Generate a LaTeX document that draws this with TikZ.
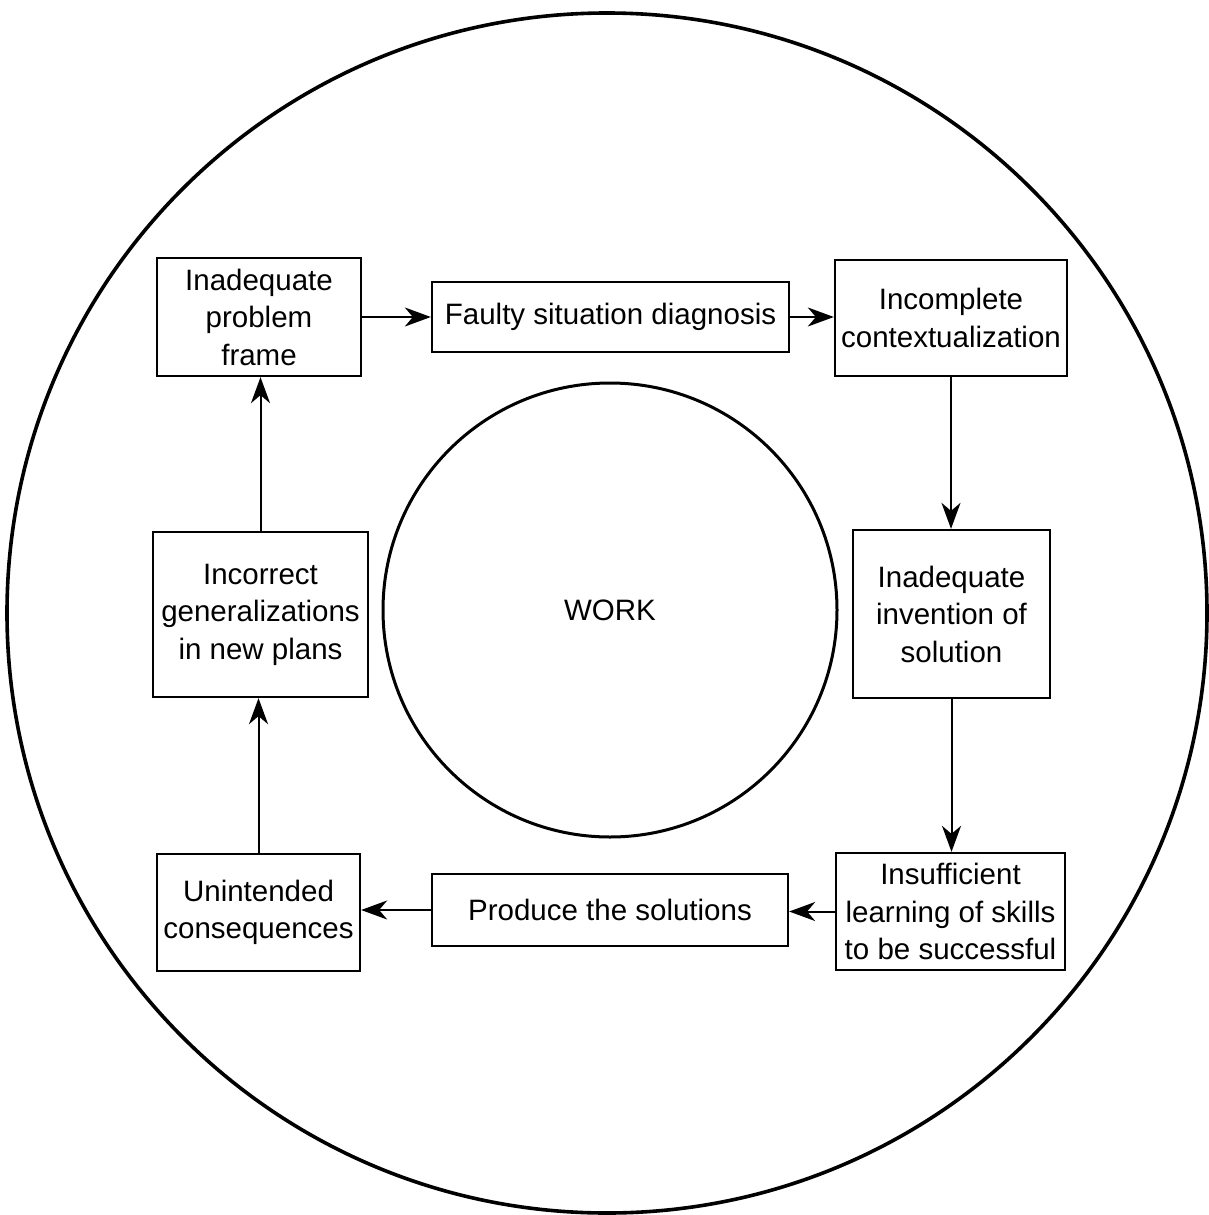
\documentclass[tikz,border=0pt]{standalone}
\usepackage{fontspec}
\setmainfont{Liberation Sans}
\usetikzlibrary{arrows.meta}
\begin{document}
\begin{tikzpicture}[x=1pt,y=-1pt,
  box/.style={draw, line width=2.3pt, align=center, inner sep=0pt,
    font=\fontsize{29.5}{37.5}\selectfont},
  conn/.style={line width=2pt, -{Stealth[length=26pt,width=19pt,inset=8pt]}},
  ring/.style={draw, line width=3.6pt}]
\useasboundingbox (0,0) rectangle (1209,1215);
\node[ring, circle, minimum size=1200pt, inner sep=0pt] (outer) at (607,613) {};
\node[draw, line width=3pt, circle, minimum size=454pt, inner sep=0pt,
  font=\fontsize{29.5}{37.5}\selectfont] (work) at (610,610) {WORK};
\node[box, minimum width=204pt, minimum height=118pt] (ipf) at (259,317) {Inadequate\\problem\\frame};
\node[box, minimum width=357pt, minimum height=70pt] (fsd) at (610.5,317) {Faulty situation diagnosis};
\node[box, minimum width=232pt, minimum height=116pt] (ic) at (951,318) {Incomplete\\contextualization};
\node[box, minimum width=215pt, minimum height=165pt] (ig) at (260.5,614.5) {Incorrect\\generalizations\\in new plans};
\node[box, minimum width=197pt, minimum height=168pt] (ii) at (951.5,614) {Inadequate\\invention of\\solution};
\node[box, minimum width=203pt, minimum height=117pt] (uc) at (258.5,912.5) {Unintended\\consequences};
\node[box, minimum width=356pt, minimum height=72pt] (ps) at (610,910) {Produce the solutions};
\node[box, minimum width=229pt, minimum height=117pt] (il) at (950.5,911.5) {Insufficient\\learning of skills\\to be successful};
\draw[conn] (ipf.east) -- (ipf.east -| fsd.west);
\draw[conn] (fsd.east) -- (fsd.east -| ic.west);
\draw[conn] (ic.south) -- (ic.south |- ii.north);
\draw[conn] (ii.south) -- (ii.south |- il.north);
\draw[conn] (il.west) -- (il.west -| ps.east);
\draw[conn] (ps.west) -- (ps.west -| uc.east);
\draw[conn] (uc.north) -- (uc.north |- ig.south);
\draw[conn] (ig.north) -- (ig.north |- ipf.south);
\end{tikzpicture}
\end{document}
